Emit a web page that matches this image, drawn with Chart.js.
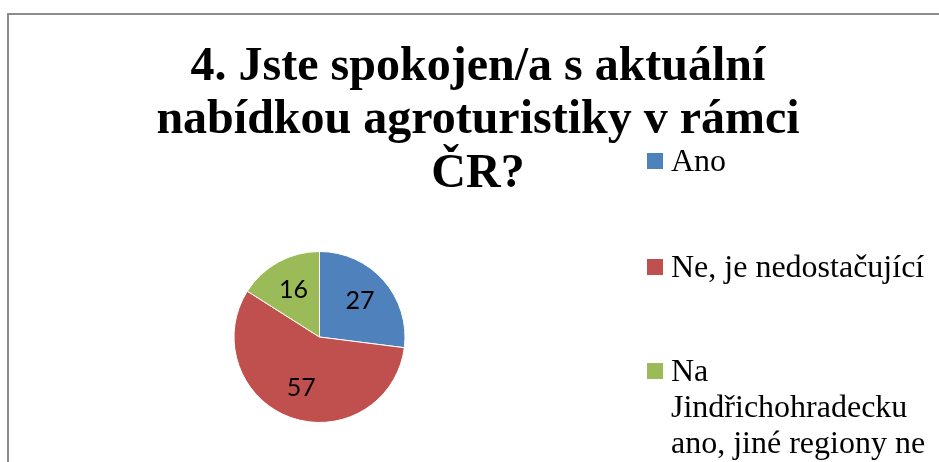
<!DOCTYPE html>
<html>
<head>
<meta charset="utf-8">
<script src="https://cdn.jsdelivr.net/npm/chart.js@4/dist/chart.umd.min.js"></script>
<style>
  html, body { margin: 0; padding: 0; background: #fff; }
  #wrap { position: relative; width: 939px; height: 462px; overflow: hidden; }
  #frame { position: absolute; left: 7px; top: 13px; width: 1000px; height: 1000px;
           border-left: 2px solid #8c8c8c; border-top: 2px solid #8c8c8c; }
  canvas { position: absolute; left: 0; top: 0; }
</style>
</head>
<body>
<div id="wrap">
  <div id="frame"></div>
  <canvas id="c" width="939" height="462"></canvas>
</div>
<script>
const titleLines = ["4. Jste spokojen/a s aktuální", "nabídkou agroturistiky v rámci", "ČR?"];
const categories = ["Ano", "Ne, je nedostačující", "Na Jindřichohradecku ano, jiné regiony ne"];
const legendLines = [["Ano"], ["Ne, je nedostačující"], ["Na", "Jindřichohradecku", "ano, jiné regiony ne"]];
const values = [27, 57, 16];
const colors = ["#4F81BD", "#C0504D", "#9BBB59"];

const overlay = {
  id: 'overlay',
  afterDraw(chart) {
    const ctx = chart.ctx;
    ctx.save();
    // Title
    ctx.fillStyle = '#000';
    ctx.font = 'bold 48px "Liberation Serif", "Times New Roman", serif';
    ctx.textAlign = 'center';
    ctx.textBaseline = 'alphabetic';
    const tBase = [80, 133, 187];
    titleLines.forEach((t, i) => ctx.fillText(t, 478, tBase[i]));

    // Data labels
    const meta = chart.getDatasetMeta(0);
    ctx.font = '25px Lato, "Open Sans", sans-serif';
    ctx.textBaseline = 'middle';
    meta.data.forEach((arc, i) => {
      const p = arc.getProps(['x', 'y', 'startAngle', 'endAngle', 'outerRadius'], true);
      const mid = (p.startAngle + p.endAngle) / 2;
      const r = p.outerRadius * 0.63;
      ctx.fillText(String(chart.data.datasets[0].data[i]), p.x + Math.cos(mid) * r, p.y + Math.sin(mid) * r);
    });

    // Legend
    ctx.font = '32px "Liberation Serif", "Times New Roman", serif';
    ctx.textAlign = 'left';
    ctx.textBaseline = 'alphabetic';
    const itemBase = [171, 277, 381];
    legendLines.forEach((lines, i) => {
      ctx.fillStyle = chart.data.datasets[0].backgroundColor[i];
      ctx.fillRect(647, itemBase[i] - 18, 16, 16);
      ctx.fillStyle = '#000';
      lines.forEach((ln, j) => ctx.fillText(ln, 671, itemBase[i] + j * 36));
    });
    ctx.restore();
  }
};

new Chart(document.getElementById('c'), {
  type: 'pie',
  data: {
    labels: categories,
    datasets: [{
      data: values,
      backgroundColor: colors,
      borderColor: '#ffffff',
      borderWidth: 1
    }]
  },
  options: {
    responsive: false,
    animation: false,
    layout: { padding: { left: 233.5, right: 533.5, top: 251, bottom: 39 } },
    plugins: { legend: { display: false }, title: { display: false }, tooltip: { enabled: false } }
  },
  plugins: [overlay]
});
</script>
</body>
</html>
